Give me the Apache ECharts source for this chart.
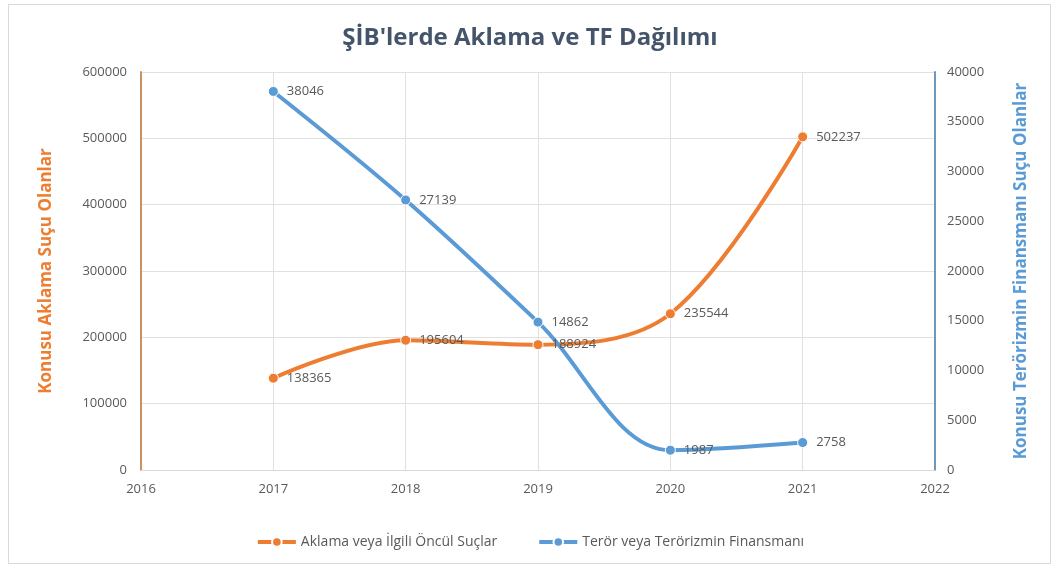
<!DOCTYPE html>
<html>
<head>
<meta charset="utf-8">
<script src="https://cdn.jsdelivr.net/npm/echarts@6/dist/echarts.min.js"></script>
<style>
  html, body { margin: 0; padding: 0; background: #fff; }
  #frame { position: absolute; left: 8px; top: 4px; width: 1043px; height: 560px; border: 1px solid #d9d9d9; box-sizing: border-box; }
  #chart { width: 1060px; height: 570px; }
</style>
</head>
<body>
<div id="frame"></div>
<div id="chart"></div>
<script>
// yıllar ve seriler
const years = [2017, 2018, 2019, 2020, 2021]
const aklama = [138365, 195604, 188924, 235544, 502237]
const teror = [38046, 27139, 14862, 1987, 2758]
const seriesNames = ['Aklama veya İlgili Öncül Suçlar', 'Terör veya Terörizmin Finansmanı']

const orange = '#ED7D31'
const blue = '#5B9BD5'
const textGrey = '#595959'
const font = 'Open Sans'

const pairs = (vals) => years.map((y, i) => [y, vals[i]])
const plain = (v) => String(v)

const chart = echarts.init(document.getElementById('chart'))
chart.setOption({
  animation: false,
  textStyle: { fontFamily: font },
  title: {
    text: "ŞİB'lerde Aklama ve TF Dağılımı",
    left: 'center',
    top: 21,
    textStyle: { fontSize: 24, fontWeight: 'bold', color: '#44546A', fontFamily: font }
  },
  grid: { left: 141, right: 125, top: 72, bottom: 100 },
  legend: {
    bottom: 16,
    left: 'center',
    itemWidth: 38,
    itemHeight: 12,
    itemGap: 40,
    selectedMode: false,
    lineStyle: { width: 4 },
    textStyle: { color: textGrey, fontSize: 14, fontFamily: font },
    data: seriesNames
  },
  xAxis: {
    type: 'value',
    min: 2016,
    max: 2022,
    interval: 1,
    axisLine: { lineStyle: { color: '#d9d9d9' } },
    axisTick: { show: false },
    axisLabel: { color: textGrey, fontSize: 13, margin: 13, formatter: plain },
    splitLine: { show: true, lineStyle: { color: '#e0e0e0' } }
  },
  yAxis: [{
    type: 'value',
    min: 0,
    max: 600000,
    interval: 100000,
    name: 'Konusu Aklama Suçu Olanlar',
    nameLocation: 'middle',
    nameGap: 86,
    nameTextStyle: { color: orange, fontSize: 17, fontWeight: 'bold', fontFamily: font },
    axisLine: { show: true, lineStyle: { color: '#C9915E', width: 2 } },
    axisTick: { show: false },
    axisLabel: { color: textGrey, fontSize: 13, margin: 14, formatter: plain },
    splitLine: { show: true, lineStyle: { color: '#e0e0e0' } }
  }, {
    type: 'value',
    min: 0,
    max: 40000,
    interval: 5000,
    name: 'Konusu Terörizmin Finansmanı Suçu Olanlar',
    nameLocation: 'middle',
    nameGap: 78,
    nameTextStyle: { color: blue, fontSize: 17, fontWeight: 'bold', fontFamily: font },
    axisLine: { show: true, lineStyle: { color: '#6D98BF', width: 2 } },
    axisTick: { show: false },
    axisLabel: { color: textGrey, fontSize: 13, margin: 12, formatter: plain },
    splitLine: { show: false }
  }],
  series: [{
    name: seriesNames[0],
    type: 'line',
    yAxisIndex: 0,
    data: pairs(aklama),
    smooth: 0.35,
    symbol: 'circle',
    symbolSize: 10,
    itemStyle: { color: orange, borderColor: '#fff', borderWidth: 1 },
    lineStyle: { color: orange, width: 4 },
    label: { show: true, position: 'right', distance: 8, color: textGrey, fontSize: 13, formatter: (p) => p.value[1] }
  }, {
    name: seriesNames[1],
    type: 'line',
    yAxisIndex: 1,
    data: pairs(teror),
    smooth: 0.35,
    symbol: 'circle',
    symbolSize: 10,
    itemStyle: { color: blue, borderColor: '#fff', borderWidth: 1 },
    lineStyle: { color: blue, width: 4 },
    label: { show: true, position: 'right', distance: 8, color: textGrey, fontSize: 13, formatter: (p) => p.value[1] }
  }]
})
</script>
</body>
</html>
